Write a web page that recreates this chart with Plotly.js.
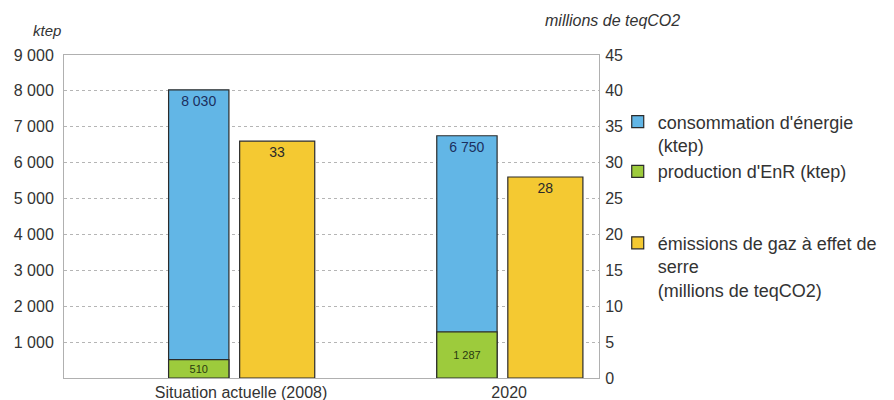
<!DOCTYPE html>
<html>
<head>
<meta charset="utf-8">
<script src="https://cdn.plot.ly/plotly-3.0.1.min.js"></script>
<style>html,body{margin:0;padding:0;background:#fff;}#chart{width:894px;height:400px;}</style>
</head>
<body>
<div id="chart"></div>
<script>
const categories = ["Situation actuelle (2008)", "2020"];
const consommation = [8030, 6750];   // ktep
const productionEnR = [510, 1287];   // ktep
const emissions = [33, 28];          // millions de teqCO2
const leftTicks = [1000, 2000, 3000, 4000, 5000, 6000, 7000, 8000, 9000];
const rightTicks = [0, 5, 10, 15, 20, 25, 30, 35, 40, 45];

const FONT = "Liberation Sans, Arial, sans-serif";
const outline = {color: "#2b2b2b", width: 1.2};

const traces = [
  {
    type: "bar", x: categories, y: consommation, name: "consommation d'énergie<br>(ktep)",
    marker: {color: "#62b6e6", line: outline},
    offset: -0.27, width: 0.225,
    texttemplate: "%{y:,}", textposition: "inside", insidetextanchor: "end",
    textfont: {family: FONT, size: 14, color: "#1c2f5e"}, constraintext: "none",
    legendgroup: "a", hoverinfo: "skip"
  },
  {
    type: "bar", x: categories, y: productionEnR, name: "production d'EnR (ktep)",
    marker: {color: "#9dcb3c", line: outline},
    offset: -0.27, width: 0.225,
    texttemplate: "%{y:,}", textposition: "inside", insidetextanchor: "middle",
    textfont: {family: FONT, size: 11, color: "#2a3a10"}, constraintext: "none",
    legendgroup: "a", hoverinfo: "skip"
  },
  {
    type: "bar", x: categories, y: emissions, yaxis: "y2",
    name: "émissions de gaz à effet de<br>serre<br>(millions de teqCO2)",
    marker: {color: "#f4c932", line: outline},
    offset: -0.005, width: 0.28,
    texttemplate: "%{y}", textposition: "inside", insidetextanchor: "end",
    textfont: {family: FONT, size: 14, color: "#2a2a2a"}, constraintext: "none",
    legendgroup: "b", hoverinfo: "skip"
  }
];

const layout = {
  width: 894, height: 400,
  margin: {l: 64, r: 290, t: 55, b: 22},
  paper_bgcolor: "#fff", plot_bgcolor: "#fff",
  separators: ", ",
  barmode: "overlay",
  font: {family: FONT, size: 16, color: "#333"},
  xaxis: {
    type: "category", range: [-0.66, 1.335],
    showline: true, linecolor: "#b0b0b0", linewidth: 1, mirror: true,
    ticks: "", showgrid: false, tickfont: {size: 16, color: "#333"},
    ticklabelstandoff: 0
  },
  yaxis: {
    range: [0, 9000], tickmode: "array", tickvals: leftTicks, tickformat: ",d",
    showline: true, linecolor: "#b0b0b0", linewidth: 1,
    showgrid: true, gridcolor: "#b5b5b5", griddash: "dot", gridwidth: 1,
    zeroline: false, ticks: "", ticklabelstandoff: 6,
    tickfont: {size: 16, color: "#333"}
  },
  yaxis2: {
    overlaying: "y", side: "right", range: [0, 45],
    tickmode: "array", tickvals: rightTicks,
    showline: true, linecolor: "#b0b0b0", linewidth: 1,
    showgrid: false, zeroline: false, ticks: "", ticklabelstandoff: 2,
    tickfont: {size: 16, color: "#333"}
  },
  legend: {
    x: 1.035, xanchor: "left", y: 0.85, yanchor: "top", valign: "top",
    font: {size: 18, color: "#333"}, traceorder: "grouped", tracegroupgap: 45,
    bgcolor: "rgba(0,0,0,0)"
  },
  annotations: [
    {text: "<i>ktep</i>", xref: "paper", yref: "paper", x: 0, y: 1, xshift: -17, yshift: 25,
     xanchor: "center", yanchor: "middle", showarrow: false, font: {size: 15, color: "#333"}},
    {text: "<i>millions de teqCO2</i>", xref: "paper", yref: "paper", x: 1, y: 1, xshift: 13, yshift: 35,
     xanchor: "center", yanchor: "middle", showarrow: false, font: {size: 16, color: "#333"}}
  ]
};

Plotly.newPlot("chart", traces, layout, {displayModeBar: false, staticPlot: true});
</script>
</body>
</html>
